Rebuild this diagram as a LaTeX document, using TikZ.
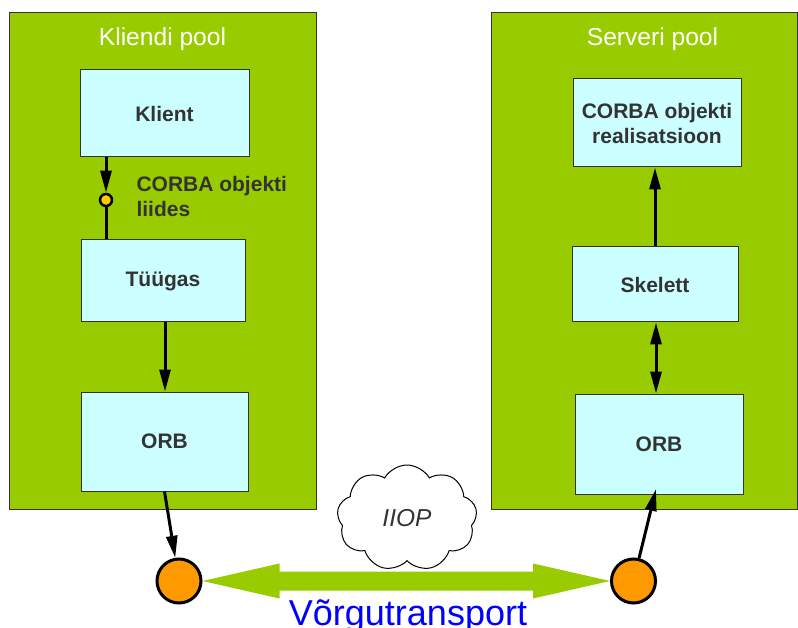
\documentclass[tikz,border=0pt]{standalone}
\usepackage{fontspec}
\setmainfont{Liberation Sans}
\usetikzlibrary{arrows.meta,shapes.symbols,calc}
\definecolor{poolgreen}{HTML}{99CC00}
\definecolor{boxcyan}{HTML}{CCFFFF}
\definecolor{txtgray}{HTML}{333333}
\definecolor{orb}{HTML}{FF9900}
\definecolor{iface}{HTML}{FFCC00}
\definecolor{netblue}{HTML}{0000FF}
\tikzset{
  pool/.style={draw=txtgray, line width=1pt, fill=poolgreen},
  compbox/.style={draw=txtgray, line width=1pt, fill=boxcyan, inner sep=0pt,
    font=\fontsize{21}{25}\selectfont\bfseries, text=txtgray, align=center},
  pooltitle/.style={text=white, font=\fontsize{24.6}{28}\selectfont},
  conn/.style={line width=3pt, -{Triangle[length=22pt,width=11pt]}},
  dconn/.style={line width=3pt, {Triangle[length=22pt,width=11pt]}-{Triangle[length=22pt,width=11pt]}},
  plain/.style={line width=3pt},
  endpoint/.style={circle, draw=black, line width=3pt, fill=orb, minimum size=44pt, inner sep=0pt},
}
\begin{document}
\begin{tikzpicture}[x=1pt,y=-1pt]
\useasboundingbox (0,0) rectangle (798,628);
% pools
\draw[pool] (9,13) rectangle (316,509);
\draw[pool] (491,13) rectangle (797,509);
\node[pooltitle] (tl) at (162.5,39) {Kliendi pool};
\node[pooltitle] (tr) at (652.5,39) {Serveri pool};
% client side
\node[compbox, minimum width=169pt, minimum height=87pt] (klient) at (164.5,113.5) {Klient};
\node[compbox, minimum width=164pt, minimum height=82pt] (tuugas) at (163,281) {Tüügas};
\node[compbox, minimum width=167pt, minimum height=99pt] (orbl) at (164.5,441.5) {ORB};
\node[circle, draw=black, line width=2.5pt, fill=iface, minimum size=12pt, inner sep=0pt] (if) at (106,200) {};
\node[anchor=west, align=left, text=txtgray, font=\fontsize{21}{25}\selectfont\bfseries] (iflabel) at (133,196) {CORBA objekti\\liides};
\draw[conn] (klient.south -| if) -- (if.north);
\draw[plain] (if.south) -- (tuugas.north -| if);
\draw[conn] (tuugas.south) ++(2,0) coordinate (ts) -- (ts |- orbl.north);
% server side
\node[compbox, minimum width=168pt, minimum height=88pt] (impl) at (657,123) {CORBA objekti\\realisatsioon};
\node[compbox, minimum width=166pt, minimum height=75pt] (skel) at (655,284.5) {Skelett};
\node[compbox, minimum width=168pt, minimum height=100pt] (orbr) at (659,444) {ORB};
\draw[conn] (skel.north) -- (skel.north |- impl.south);
\draw[dconn] (skel.south) ++(1,0) coordinate (ss) -- (ss |- orbr.north);
% network
\node[endpoint] (cl) at (179,581) {};
\node[endpoint] (cr) at (633.5,581) {};
\draw[conn] (orbl.south) -- (cl);
\coordinate (rtip) at (656,489);
\draw[conn] (cr) -- (rtip);
\fill[poolgreen] (cl.east) -- ++(77,-17.5) -- ++(0,8) -- ($(cr.west)+(-77,-9.5)$) -- ++(0,-8)
  -- (cr.west) -- ++(-77,17.5) -- ++(0,-8) -- ($(cl.east)+(77,9.5)$) -- ++(0,8) -- cycle;
\node[cloud, cloud puffs=9, cloud puff arc=120, aspect=1.3, draw=black, line width=1pt, fill=white,
  minimum width=140pt, minimum height=106pt, text=txtgray,
  font=\fontsize{24.5}{28}\selectfont\itshape] (iiop) at (407,518) {IIOP};
\node[anchor=base, text=netblue, font=\fontsize{36}{40}\selectfont, inner sep=0pt] (net) at (408,625) {Võrgutransport};
\end{tikzpicture}
\end{document}
